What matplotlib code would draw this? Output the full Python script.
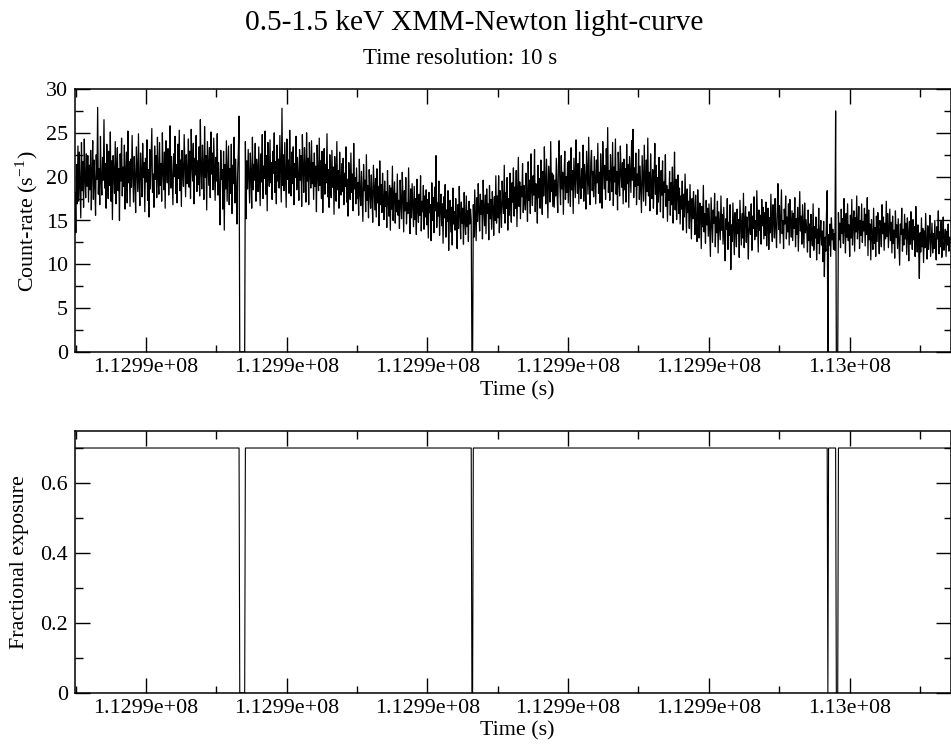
#!/usr/bin/env python3

from matplotlib import pyplot as plt
from matplotlib.ticker import MultipleLocator, FuncFormatter
import numpy as np

# light curve, 10 s bins (zeros = dead time)
t_start = 112984992.0
bin_width = 10.0
rate = [
    18.2, 13.6, 21.4, 16.9, 23.5, 17.2, 22.8, 19.0, 15.3, 23.9, 18.4, 21.7, 16.5, 24.3, 19.8, 17.6, 22.6, 18.9, 22.4, 17.1,
    21.3, 18.5, 23.0, 16.2, 20.7, 24.1, 17.4, 21.9, 19.2, 15.6, 22.5, 19.7, 27.9, 18.0, 20.9, 16.8, 24.6, 19.4, 17.9, 22.2,
    19.6, 26.5, 18.7, 21.5, 16.4, 23.7, 20.2, 17.5, 22.9, 19.0, 25.1, 17.2, 21.8, 15.1, 22.4, 20.5, 18.1, 24.0, 16.9, 21.2,
    23.3, 18.4, 20.9, 15.0, 22.6, 19.5, 24.4, 17.8, 21.1, 18.9, 23.6, 16.3, 20.6, 22.8, 17.0, 25.2, 19.3, 21.7, 16.6, 22.0,
    18.8, 24.7, 20.0, 17.1, 22.3, 19.8, 15.9, 23.4, 21.0, 18.3, 24.9, 19.1, 16.7, 22.7, 20.4, 17.7, 23.8, 19.9, 21.6, 16.0,
    22.1, 19.4, 24.2, 17.3, 20.8, 15.4, 23.1, 18.6, 21.9, 25.5, 18.2, 20.3, 16.5, 23.5, 19.7, 22.4, 17.6, 24.5, 20.1, 18.0,
    23.9, 19.0, 21.5, 17.2, 25.0, 20.6, 18.5, 22.8, 16.4, 24.1, 21.2, 19.3, 23.2, 17.9, 20.7, 25.8, 18.7, 22.3, 19.6, 16.8,
    22.6, 20.0, 24.6, 18.1, 21.4, 17.0, 23.7, 19.8, 25.3, 18.4, 21.9, 16.6, 23.0, 20.5, 18.9, 24.8, 21.1, 17.7, 22.5, 19.2,
    20.4, 24.3, 18.8, 22.9, 17.5, 25.4, 21.3, 19.5, 23.8, 16.9, 22.1, 20.2, 24.7, 18.3, 21.8, 19.1, 23.4, 17.8, 26.5, 20.6,
    18.6, 23.6, 20.9, 17.4, 25.7, 19.9, 22.4, 16.2, 24.0, 21.5, 19.0, 23.3, 17.6, 25.1, 20.3, 22.7, 18.5, 24.4, 21.0, 17.3,
    22.2, 19.5, 24.9, 17.9, 21.6, 18.4, 14.5, 23.0, 19.7, 20.8, 16.3, 22.9, 13.9, 21.4, 18.6, 24.1, 17.2, 20.5, 23.5, 16.8,
    20.9, 18.1, 23.7, 15.8, 21.3, 19.2, 24.5, 17.0, 22.0, 18.8, 14.6, 20.4, 22.8, 26.9, 0.0, 0.0, 0.0, 0.0, 0.0, 0.0,
    0.0, 0.0, 24.0, 15.2, 21.8, 18.6, 23.1, 19.9, 17.0, 22.7, 20.3, 16.4, 24.5, 18.5, 21.4, 19.6, 23.8, 17.2, 22.0, 20.6,
    18.3, 23.4, 20.1, 16.7, 22.6, 19.4, 24.8, 17.5, 21.2, 19.8, 25.2, 18.0, 22.4, 16.1, 23.9, 20.7, 18.9, 24.2, 19.3, 21.6,
    17.4, 22.9, 20.4, 25.0, 18.2, 21.7, 16.9, 23.6, 19.5, 22.0, 18.7, 24.7, 20.8, 17.1, 27.8, 19.0, 22.5, 18.4, 23.9, 20.2,
    16.5, 24.3, 19.7, 21.9, 18.1, 25.3, 20.5, 17.8, 22.8, 19.2, 23.4, 16.8, 21.5, 19.9, 24.6, 18.5, 22.2, 20.0, 17.3, 23.1,
    19.6, 22.4, 16.6, 24.8, 20.9, 18.2, 23.3, 21.0, 17.1, 25.0, 19.5, 22.1, 16.8, 23.9, 20.3, 18.7, 24.1, 19.2, 21.6, 17.4,
    22.7, 18.9, 21.2, 16.0, 23.6, 20.1, 18.4, 24.4, 19.0, 21.8, 17.5, 22.9, 15.9, 20.6, 23.2, 18.0, 21.4, 19.3, 24.9, 17.7,
    20.8, 16.5, 22.5, 19.1, 17.6, 23.0, 18.8, 21.1, 15.7, 22.3, 20.0, 17.2, 24.0, 18.5, 20.7, 16.4, 22.8, 19.4, 17.9, 21.5,
    18.3, 22.1, 16.8, 20.4, 18.9, 23.4, 17.1, 19.7, 15.5, 21.6, 19.0, 17.4, 22.7, 18.2, 20.3, 16.1, 23.8, 18.6, 19.9, 16.9,
    21.0, 17.5, 19.3, 15.6, 22.0, 18.1, 16.7, 20.6, 17.8, 14.9, 21.4, 18.4, 19.6, 16.0, 22.5, 17.3, 19.0, 15.3, 20.8, 18.2,
    16.4, 20.2, 17.7, 14.8, 21.3, 18.6, 16.2, 19.8, 15.4, 20.9, 17.0, 18.9, 14.4, 21.8, 16.8, 19.1, 15.9, 20.4, 17.4, 15.1,
    19.5, 16.6, 18.3, 14.2, 20.7, 17.1, 15.5, 19.0, 13.9, 18.7, 16.3, 21.2, 15.0, 17.8, 19.4, 14.7, 18.1, 16.0, 20.3, 15.6,
    17.3, 14.1, 19.6, 16.8, 15.2, 20.5, 17.6, 13.7, 18.4, 16.1, 19.9, 14.6, 17.0, 15.8, 21.0, 16.4, 13.5, 18.6, 15.3, 19.2,
    16.7, 14.3, 18.9, 15.1, 17.5, 13.4, 19.7, 16.2, 14.8, 18.0, 15.6, 20.1, 13.8, 17.2, 16.0, 19.0, 14.0, 17.8, 15.4, 18.5,
    14.5, 17.4, 13.0, 18.2, 15.9, 16.8, 12.7, 19.3, 15.0, 17.6, 13.6, 18.8, 16.1, 22.4, 14.2, 17.0, 15.5, 19.5, 13.3, 16.6,
    18.0, 14.4, 16.9, 12.4, 17.7, 15.3, 19.1, 13.1, 16.2, 14.9, 18.4, 11.6, 15.8, 17.3, 13.7, 16.5, 12.2, 18.7, 14.6, 16.0,
    13.9, 17.5, 15.2, 11.8, 16.8, 14.1, 18.9, 15.6, 12.9, 17.1, 14.7, 16.4, 12.3, 18.2, 15.0, 13.4, 17.8, 14.3, 16.1, 12.6,
    17.2, 14.6, 16.3, 15.1, 0.0, 0.0, 16.8, 13.1, 18.5, 15.4, 12.7, 17.6, 14.9, 19.2, 16.1, 13.8, 18.0, 15.7, 17.3, 12.9,
    19.6, 16.2, 14.4, 17.9, 13.5, 18.6, 15.8, 16.9, 12.8, 19.0, 15.2, 17.4, 14.0, 18.3, 16.5, 13.3, 17.7, 15.0, 20.1, 14.7,
    17.8, 15.3, 20.1, 13.6, 18.4, 16.6, 14.2, 19.5, 17.0, 15.8, 21.3, 14.7, 18.2, 16.4, 19.9, 13.9, 17.5, 15.6, 20.4, 16.9,
    14.8, 19.3, 17.1, 21.0, 15.5, 18.8, 16.4, 20.7, 14.3, 18.1, 22.2, 16.6, 19.4, 15.2, 18.9, 17.7, 21.5, 15.9, 19.0, 17.3,
    16.2, 20.4, 18.0, 14.9, 21.7, 17.3, 19.6, 15.8, 22.6, 18.5, 16.7, 20.1, 17.9, 23.1, 16.0, 19.2, 18.6, 14.7, 21.3, 17.6,
    19.8, 16.4, 21.9, 18.2, 15.7, 20.6, 17.8, 23.4, 19.1, 16.9, 22.0, 18.7, 15.3, 21.2, 19.5, 17.1, 24.0, 18.3, 20.4, 16.6,
    20.2, 16.5, 19.6, 17.8, 22.1, 18.3, 15.9, 21.2, 24.1, 19.0, 16.8, 22.4, 18.6, 20.5, 15.7, 19.8, 22.9, 17.4, 20.0, 18.2,
    21.6, 17.0, 21.8, 19.4, 16.6, 23.3, 18.5, 20.7, 15.8, 22.1, 19.7, 17.6, 24.2, 20.0, 18.1, 21.5, 16.9, 22.8, 19.2, 17.5,
    20.9, 18.7, 23.6, 17.2, 21.4, 19.8, 16.3, 22.9, 20.3, 18.0, 24.5, 19.1, 16.8, 21.7, 23.0, 18.4, 20.6, 17.7, 22.3, 19.5,
    16.9, 21.9, 19.3, 23.8, 18.1, 20.5, 17.0, 22.6, 19.9, 16.4, 24.0, 20.8, 18.6, 21.3, 17.4, 23.2, 19.6, 25.6, 18.2, 20.7,
    17.3, 22.5, 20.0, 18.3, 23.9, 16.7, 21.1, 19.4, 24.3, 18.0, 20.6, 16.2, 22.8, 19.7, 17.8, 23.5, 20.4, 18.8, 21.6, 16.9,
    22.0, 18.5, 20.9, 17.1, 23.7, 19.2, 21.4, 16.5, 22.3, 20.1, 18.2, 24.1, 19.6, 25.4, 17.6, 21.0, 18.9, 22.7, 16.8, 20.3,
    19.0, 23.1, 17.4, 21.2, 18.6, 15.9, 22.4, 19.8, 17.2, 23.6, 20.0, 16.7, 21.9, 18.3, 24.4, 17.8, 20.5, 16.1, 22.6, 19.3,
    17.5, 20.8, 16.4, 19.6, 23.8, 18.0, 21.3, 15.7, 19.9, 17.1, 22.2, 18.6, 16.0, 20.7, 17.9, 21.8, 15.3, 19.4, 18.2, 22.5,
    16.6, 19.0, 14.9, 18.5, 17.3, 20.6, 15.6, 19.3, 16.8, 21.1, 14.7, 18.1, 22.8, 16.2, 19.7, 15.1, 17.9, 20.2, 15.8, 18.7,
    14.6, 17.8, 16.3, 19.5, 13.9, 18.0, 15.4, 20.3, 16.7, 13.6, 18.6, 15.9, 17.2, 14.1, 19.1, 16.0, 12.9, 17.5, 15.2, 18.3,
    16.1, 13.4, 17.9, 14.8, 12.6, 18.5, 15.5, 13.0, 17.0, 15.9, 11.8, 16.6, 14.3, 19.0, 13.7, 15.8, 12.4, 17.3, 14.5, 16.4,
    13.2, 16.9, 14.0, 10.9, 17.6, 15.1, 12.5, 16.2, 14.7, 18.1, 12.0, 15.4, 13.6, 17.2, 11.3, 16.0, 14.4, 12.8, 17.8, 13.9,
    15.7, 12.3, 16.5, 13.1, 10.4, 15.2, 14.0, 17.5, 11.7, 14.8, 13.3, 16.8, 9.4, 14.5, 12.6, 17.0, 13.8, 11.1, 15.9, 14.2,
    12.0, 16.3, 13.5, 15.1, 10.8, 17.3, 14.6, 12.2, 15.8, 13.0, 18.1, 11.9, 14.9, 16.6, 12.5, 15.4, 13.7, 10.6, 16.0, 14.3,
    13.4, 16.9, 11.6, 15.5, 14.1, 17.7, 12.8, 15.0, 13.2, 18.4, 14.7, 11.4, 16.2, 13.9, 15.6, 12.3, 17.4, 14.4, 16.5, 12.9,
    15.9, 13.3, 17.1, 12.1, 14.8, 16.4, 11.7, 15.3, 13.6, 18.0, 14.5, 12.6, 16.8, 15.1, 13.0, 17.5, 14.2, 11.9, 16.0, 19.2,
    14.0, 16.7, 12.4, 15.6, 18.5, 13.5, 15.0, 11.8, 16.3, 14.6, 17.8, 12.9, 15.4, 13.7, 16.9, 12.2, 17.4, 14.8, 13.1, 16.1,
    12.7, 15.8, 14.1, 17.6, 12.0, 15.2, 13.4, 16.5, 11.5, 14.9, 18.3, 13.8, 15.5, 12.3, 16.8, 14.4, 11.9, 17.0, 13.6, 15.1,
    13.9, 11.4, 16.2, 12.7, 14.6, 10.8, 15.7, 13.2, 12.1, 16.9, 11.6, 14.3, 13.0, 15.4, 10.5, 14.0, 12.4, 16.4, 11.2, 13.7,
    15.0, 12.2, 13.8, 10.3, 14.9, 8.6, 13.1, 11.5, 15.6, 18.4, 0.0, 13.4, 12.2, 14.6, 10.9, 15.3, 12.8, 14.0, 11.7, 13.5,
    11.6, 27.5, 0.0, 0.0, 0.0, 15.9, 12.8, 14.7, 11.9, 16.3, 13.5, 15.2, 12.4, 17.5, 14.0, 11.3, 15.8, 13.1, 16.9, 12.7,
    14.5, 10.9, 15.6, 13.0, 17.4, 12.2, 14.8, 16.1, 11.5, 15.3, 13.7, 17.8, 12.9, 14.4, 16.6, 11.8, 15.0, 13.3, 16.9, 12.5,
    14.9, 13.8, 16.4, 12.1, 15.7, 13.4, 17.6, 11.0, 16.2, 12.8, 14.6, 10.5, 15.1, 13.0, 11.7, 16.4, 12.4, 14.2, 10.9, 15.5,
    12.6, 15.9, 13.9, 11.2, 15.0, 14.3, 12.0, 16.8, 13.5, 15.4, 11.6, 14.7, 12.9, 17.2, 13.2, 15.8, 11.9, 14.1, 16.3, 12.7,
    14.8, 11.3, 15.5, 12.4, 13.9, 10.7, 16.1, 13.1, 14.5, 11.8, 15.2, 12.6, 9.9, 14.6, 13.4, 16.4, 11.5, 14.0, 12.2, 15.7,
    12.9, 14.7, 11.1, 15.3, 13.6, 10.4, 14.9, 12.3, 16.0, 13.2, 11.7, 15.1, 12.8, 14.3, 10.9, 16.6, 13.0, 11.4, 14.5, 12.1,
    8.4, 13.6, 11.4, 15.3, 12.0, 14.1, 10.2, 13.8, 11.9, 15.8, 12.5, 10.6, 14.4, 11.7, 13.2, 15.6, 10.9, 12.8, 14.7, 11.3,
    13.5, 11.8, 15.0, 12.4, 10.5, 14.3, 12.9, 16.1, 11.2, 13.7, 12.0, 14.9, 10.8, 13.3, 15.4, 11.6, 12.7, 14.0, 10.9, 13.8,
    12.2, 14.6, 11.5, 13.1, 12.8,
]
exposure_level = 0.70  # fractional exposure outside the dead-time bins

rate = np.array(rate)
time = t_start + bin_width * np.arange(len(rate))
frac_exp = np.where(rate > 0, exposure_level, 0.0)

plt.rcParams['font.family'] = ['Liberation Serif', 'DejaVu Serif']
plt.rcParams['mathtext.fontset'] = 'stix'

W, H = 951, 745
fig = plt.figure(figsize=(W / 100, H / 100), dpi=100)

def px_axes(x0, y0, x1, y1):
    return fig.add_axes([x0 / W, 1 - y1 / H, (x1 - x0) / W, (y1 - y0) / H])

ax1 = px_axes(75, 89, 950.5, 352)
ax2 = px_axes(75, 431, 950.5, 693)

fmt = FuncFormatter(lambda v, p: '%.5g' % v)
for ax in (ax1, ax2):
    ax.set_xlim(112984990, 112997435)
    ax.xaxis.set_major_locator(MultipleLocator(2000))
    ax.xaxis.set_minor_locator(MultipleLocator(1000))
    ax.xaxis.set_major_formatter(fmt)
    ax.yaxis.set_major_formatter(fmt)
    ax.tick_params(which='both', direction='in', top=True, right=True, width=1.0, labelsize=15.8)
    ax.tick_params(which='major', length=10.8)
    ax.tick_params(which='minor', length=5.4)
    ax.tick_params(axis='x', pad=4)
    ax.tick_params(axis='y', pad=5)
    for s in ax.spines.values():
        s.set_linewidth(1.1)

ax1.plot(time, rate, color='black', lw=0.9)
ax1.set_ylim(0, 30)
ax1.yaxis.set_major_locator(MultipleLocator(5))
ax1.yaxis.set_minor_locator(MultipleLocator(2.5))

ax2.plot(time, frac_exp, color='black', lw=0.8)
ax2.set_ylim(0, 0.7486)
ax2.yaxis.set_major_locator(MultipleLocator(0.2))
ax2.yaxis.set_minor_locator(MultipleLocator(0.1))

fig.text(474 / W, 1 - 23 / H, '0.5-1.5 keV XMM-Newton light-curve', fontsize=21.2, ha='center', va='center')
fig.text(460 / W, 1 - 59 / H, 'Time resolution: 10 s', fontsize=16.5, ha='center', va='center')
fig.text(517 / W, 1 - 391 / H, 'Time (s)', fontsize=15.8, ha='center', va='center')
fig.text(517 / W, 1 - 731 / H, 'Time (s)', fontsize=15.8, ha='center', va='center')
fig.text(27 / W, 1 - 221 / H, 'Count-rate (s$^{\\mathregular{-1}}$)', fontsize=15.8, rotation=90, ha='center', va='center')
fig.text(20 / W, 1 - 562 / H, 'Fractional exposure', fontsize=15.8, rotation=90, ha='center', va='center')

fig.savefig('out.png', dpi=100)
